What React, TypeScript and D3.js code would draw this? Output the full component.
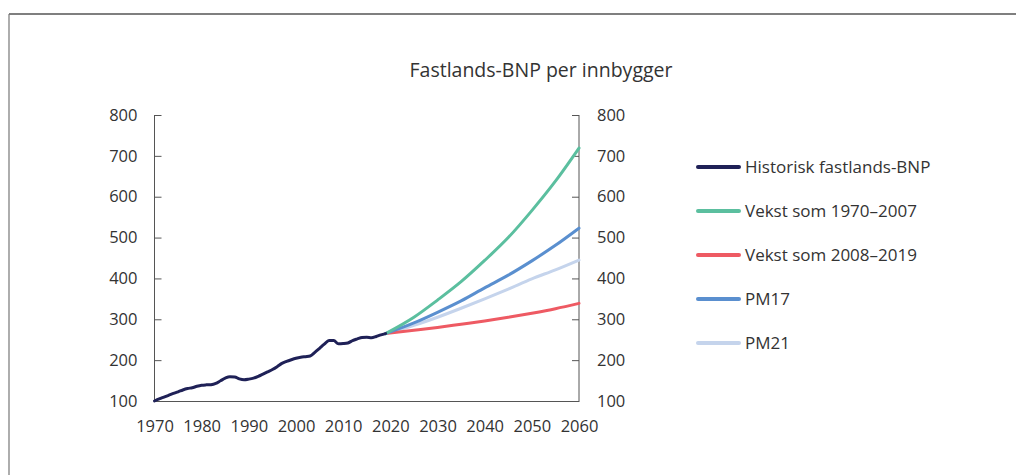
import { useEffect, useRef } from "react";
import * as d3 from "d3";

const histYears = d3.range(1970, 2020);
const histValues = [
  100, 105, 109.5, 114, 118.5, 122.5, 127, 130.5, 132.5, 136,
  138.5, 139.5, 140, 143, 149.5, 156, 159.5, 159, 154, 152,
  153.5, 156, 160.5, 166, 171.5, 177, 184, 192, 197, 201,
  204.5, 207, 208.5, 210, 219, 229, 239, 248, 248, 240,
  240.5, 242, 248, 252, 255.5, 256, 255, 258, 262, 265,
];

const projYears = [2019, 2025, 2030, 2035, 2040, 2045, 2050, 2055, 2060];
const vekst7007 = [265, 305, 347, 392, 444, 500, 566, 638, 719];
const vekst0819 = [265, 273, 280, 288, 296, 305, 315, 326, 339];
const pm17 = [265, 291, 317, 345, 377, 408, 443, 481, 523];
const pm21 = [265, 285, 305, 327, 350, 374, 399, 421, 445];

const xTicks = [1970, 1980, 1990, 2000, 2010, 2020, 2030, 2040, 2050, 2060];
const yTicks = [100, 200, 300, 400, 500, 600, 700, 800];

const series = [
  { name: "Historisk fastlands-BNP", color: "#1f2157", years: histYears, values: histValues },
  { name: "Vekst som 1970–2007", color: "#5bbf9f", years: projYears, values: vekst7007 },
  { name: "Vekst som 2008–2019", color: "#ee5a63", years: projYears, values: vekst0819 },
  { name: "PM17", color: "#5a8fcf", years: projYears, values: pm17 },
  { name: "PM21", color: "#c5d4ec", years: projYears, values: pm21 },
];
// draw order: light ones underneath
const drawOrder = [4, 2, 3, 1, 0];

const W = 1016;
const H = 475;
const font = "'Open Sans', 'Noto Sans', sans-serif";

export default function App() {
  const svgRef = useRef<SVGSVGElement | null>(null);

  useEffect(() => {
    const svg = d3.select(svgRef.current);
    svg.selectAll("*").remove();

    const left = 154.5, right = 579, top = 115, bottom = 401;
    const x = d3.scaleLinear().domain([1970, 2060]).range([left, right]);
    const y = d3.scaleLinear().domain([100, 800]).range([bottom, top]);

    // frame
    svg.append("line").attr("x1", 9).attr("x2", W).attr("y1", 14).attr("y2", 14)
      .attr("stroke", "#555").attr("stroke-width", 1.5);
    svg.append("line").attr("x1", 9).attr("x2", 9).attr("y1", 14).attr("y2", H)
      .attr("stroke", "#777").attr("stroke-width", 1.2);

    svg.append("text").attr("x", 541).attr("y", 77).attr("text-anchor", "middle")
      .attr("font-family", font).attr("font-size", 19.5).attr("fill", "#333")
      .text("Fastlands-BNP per innbygger");

    const g = svg.append("g");
    const axisColor = "#555";

    // y axes (ticks point inward)
    const yl = g.append("g").attr("transform", `translate(${left},0)`)
      .call(d3.axisRight(y).tickValues(yTicks).tickSize(7).tickFormat(() => ""));
    const yr = g.append("g").attr("transform", `translate(${right},0)`)
      .call(d3.axisLeft(y).tickValues(yTicks).tickSize(7).tickFormat(() => ""));
    [yl, yr].forEach((a) => {
      a.select(".domain").attr("stroke", axisColor).attr("d", `M0,${top}V${bottom}`);
      a.selectAll(".tick line").attr("stroke", axisColor);
    });

    // y labels
    yTicks.forEach((t) => {
      g.append("text").attr("x", left - 17).attr("y", y(t)).attr("dy", "0.35em")
        .attr("text-anchor", "end").attr("font-family", font).attr("font-size", 16.5)
        .attr("fill", "#333").text(t);
      g.append("text").attr("x", right + 18).attr("y", y(t)).attr("dy", "0.35em")
        .attr("text-anchor", "start").attr("font-family", font).attr("font-size", 16.5)
        .attr("fill", "#333").text(t);
    });

    // x axis
    const xa = g.append("g").attr("transform", `translate(0,${bottom})`)
      .call(d3.axisBottom(x).tickValues(xTicks).tickSize(0).tickFormat(d3.format("d")));
    xa.select(".domain").attr("stroke", axisColor);
    xa.selectAll("text").attr("font-family", font).attr("font-size", 16.5).attr("fill", "#333")
      .attr("y", 31).attr("dy", 0);

    // lines
    const line = d3.line<[number, number]>()
      .x((d) => x(d[0])).y((d) => y(d[1])).curve(d3.curveMonotoneX);
    drawOrder.forEach((i) => {
      const s = series[i];
      const pts = s.years.map((yy, k) => [yy, s.values[k]] as [number, number]);
      g.append("path").datum(pts).attr("fill", "none").attr("stroke", s.color)
        .attr("stroke-width", 3).attr("stroke-linejoin", "round").attr("stroke-linecap", "round")
        .attr("d", line);
    });

    // legend
    const lg = svg.append("g");
    series.forEach((s, i) => {
      const ly = 167 + i * 44;
      lg.append("line").attr("x1", 698).attr("x2", 739).attr("y1", ly).attr("y2", ly)
        .attr("stroke", s.color).attr("stroke-width", 4).attr("stroke-linecap", "round");
      lg.append("text").attr("x", 745).attr("y", ly).attr("dy", "0.35em")
        .attr("font-family", font).attr("font-size", 17).attr("fill", "#333").text(s.name);
    });
  }, []);

  return (
    <svg ref={svgRef} width={W} height={H}
      style={{ position: "absolute", left: 0, top: 0, background: "#fff" }} />
  );
}
